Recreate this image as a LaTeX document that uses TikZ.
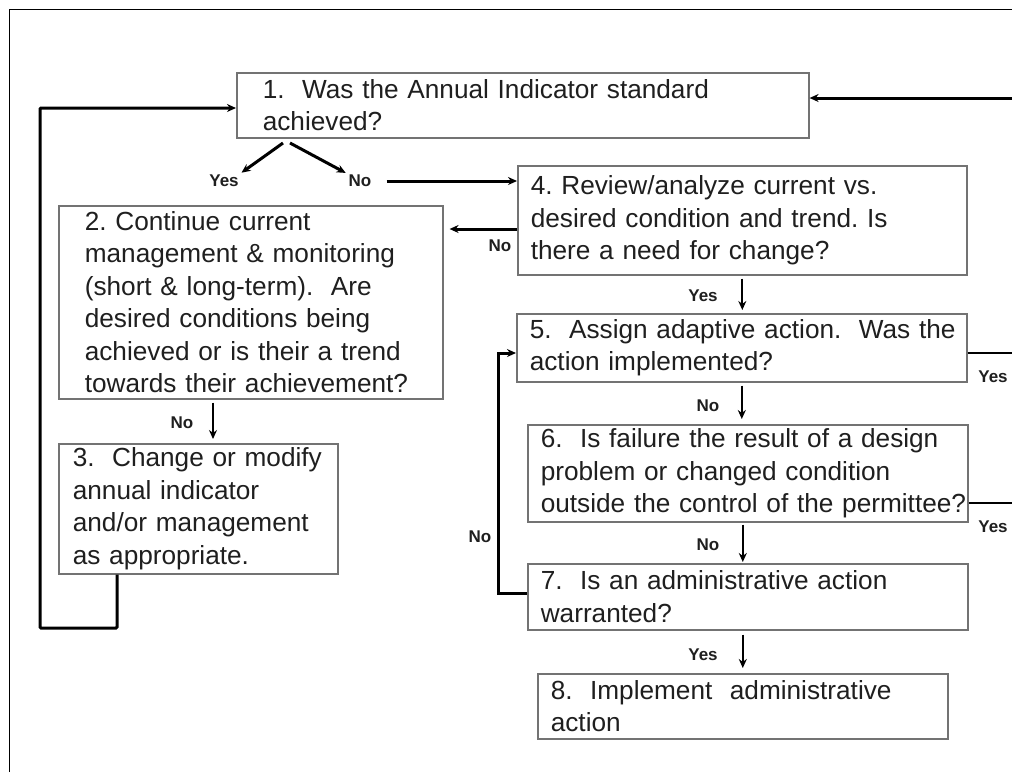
\documentclass[tikz,border=0pt]{standalone}
\usepackage{fontspec}
\setmainfont{Liberation Sans}
\usetikzlibrary{arrows.meta, positioning, calc}
\definecolor{boxgray}{rgb}{0.45,0.45,0.45}
\definecolor{inkgray}{rgb}{0.12,0.12,0.12}
\frenchspacing
\hyphenpenalty=10000

\begin{document}
\begin{tikzpicture}[x=1pt, y=-1pt, >={Stealth[length=9pt,width=8pt]},
    box/.style={draw=boxgray, line width=1.6pt, anchor=north west, align=left,
        inner ysep=0pt, text=inkgray, font=\fontsize{26.2}{32.5}\selectfont},
    lbl/.style={inner sep=1pt, text=inkgray, font=\bfseries\fontsize{17}{19}\selectfont},
    link/.style={->, line width=2pt},
    thick link/.style={->, line width=3pt}]
        \useasboundingbox (0,0) rectangle (1012,772);
        \fill[white] (0,0) rectangle (1012,772);
        \draw[line width=1pt] (9,772) -- (9,9) -- (1012,9);
        \node[box, inner xsep=26pt, text width=520pt, minimum height=65pt] (b1) at (236,72)
            {1.\ \ Was the Annual Indicator standard\\achieved?};
        \node[box, inner xsep=26pt, text width=332pt, minimum height=193pt] (b2) at (58,205)
            {2. Continue current\\management \& monitoring\\(short \& long-term).\ \ Are\\desired conditions being\\achieved or is their a trend\\\mbox{towards their achievement?}};
        \node[box, inner xsep=14pt, text width=251pt, minimum height=130pt] (b3) at (58,443)
            {\mbox{3.\ \ Change or modify}\\annual indicator\\\mbox{and/or management}\\as appropriate.};
        \node[box, inner xsep=13pt, text width=423pt, minimum height=109pt] (b4) at (517,165)
            {4. Review/analyze current vs.\\\mbox{desired condition and trend. Is}\\there a need for change?};
        \node[box, inner xsep=13pt, text width=424pt, minimum height=68pt] (b5) at (516,313)
            {\mbox{5.\ \ Assign adaptive action.\ \ Was the}\\action implemented?};
        \node[box, inner xsep=13pt, text width=414pt, minimum height=97pt] (b6) at (527,424)
            {6.\ \ Is failure the result of a design\\problem or changed condition\\\mbox{outside the control of the permittee?}};
        \node[box, inner xsep=13pt, text width=414pt, minimum height=66pt] (b7) at (527,563)
            {7.\ \ Is an administrative action\\warranted?};
        \node[box, inner xsep=13pt, text width=384pt, minimum height=65pt] (b8) at (537,673)
            {8.\ \ Implement\ \ administrative\\action};
        \node[lbl] (yes1) at (224,181) {Yes};
        \node[lbl] (no1) at (360,181) {No};
        \node[lbl] (no4) at (500,246) {No};
        \node[lbl] (yes4) at (703,296) {Yes};
        \node[lbl] (yes5) at (993,377) {Yes};
        \node[lbl] (no5) at (708,406) {No};
        \node[lbl] (yes6) at (993,527) {Yes};
        \node[lbl] (no6) at (708,545) {No};
        \node[lbl] (no7) at (480,537) {No};
        \node[lbl] (yes7) at (703,655) {Yes};
        \node[lbl] (no2) at (182,423) {No};
        \coordinate[] (S1) at (283,143);
        \coordinate[] (S2) at (290,143);
        \coordinate[] (E1) at (1012,98);
        \coordinate[] (E5) at (1012,353);
        \coordinate[] (E6) at (1012,503);
        \coordinate[] (A4) at (517,229);
        \coordinate[] (A2) at (213,0);
        \coordinate[] (L3) at (117,628);
        \coordinate[] (L1) at (40,108);
        \coordinate[] (L7) at (498,593);
        \coordinate[] (L5) at (498,353);
        \draw[thick link, shorten >=2pt] (S1) -- (yes1.north east);
        \draw[thick link, shorten >=2pt] (S2) -- (no1.north west);
        \draw[thick link] ($(no1.east)+(14,0)$) -- (no1.east -| b4.west);
        \draw[thick link, shorten >=6pt] (A4) -- (A4 -| b2.east);
        \draw[link, shorten <=3pt, shorten >=3pt] (b4.south) -- (b4.south |- b5.north);
        \draw[link, shorten <=3pt, shorten >=5pt] (b5.south) -- (b5.south |- b6.north);
        \draw[link, shorten <=2pt, shorten >=1pt] ([xshift=-5pt]b6.south) -- ([xshift=-5pt]b7.north);
        \draw[link, shorten <=4pt, shorten >=5pt] (b8.north |- b7.south) -- (b8.north);
        \draw[link, shorten <=3pt, shorten >=4pt] (A2 |- b2.south) -- (A2 |- b3.north);
        \draw[line width=2.4pt] (E5 -| b5.east) -- (E5);
        \draw[line width=2.4pt] (E6 -| b6.east) -- (E6);
        \draw[thick link] (E1) -- (E1 -| b1.east);
        \draw[thick link] (L7 -| b7.west) -- (L7) -- (L5) -- (L5 -| b5.west);
        \draw[thick link, rounded corners=1pt] (L3 |- b3.south) -- (L3) -| (L1) -- (L1 -| b1.west);
\end{tikzpicture}
\end{document}
